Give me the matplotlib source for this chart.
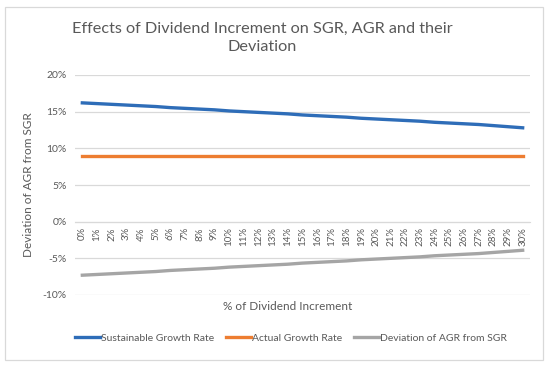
import numpy as np
import matplotlib
matplotlib.use("Agg")
import matplotlib.pyplot as plt
from matplotlib.patches import Rectangle

plt.rcParams['font.family'] = ['Lato', 'DejaVu Sans']

# % of dividend increment, 0..30
categories = [f"{i}%" for i in range(31)]
sgr = [16.2, 16.1, 16.0, 15.9, 15.8, 15.7, 15.55, 15.45, 15.35, 15.25,
       15.1, 15.0, 14.9, 14.8, 14.7, 14.55, 14.45, 14.35, 14.25, 14.1,
       14.0, 13.9, 13.8, 13.7, 13.55, 13.45, 13.35, 13.25, 13.1, 12.95, 12.8]
agr = [8.9] * 31
deviation = [-7.3, -7.2, -7.1, -7.0, -6.9, -6.8, -6.65, -6.55, -6.45, -6.35,
             -6.2, -6.1, -6.0, -5.9, -5.8, -5.65, -5.55, -5.45, -5.35, -5.2,
             -5.1, -5.0, -4.9, -4.8, -4.65, -4.55, -4.45, -4.35, -4.2, -4.05, -3.9]
yticks = [-10, -5, 0, 5, 10, 15, 20]

txt = '#595959'
fig = plt.figure(figsize=(5.5, 3.65), dpi=100)
ax = fig.add_axes([75/550, 1 - 295/365, 455/550, 220/365])

x = np.arange(len(categories))
ax.plot(x, sgr, color='#2E6DB8', lw=2.4, label='Sustainable Growth Rate')
ax.plot(x, agr, color='#ED7D31', lw=2.4, label='Actual Growth Rate')
ax.plot(x, deviation, color='#A5A5A5', lw=2.4, label='Deviation of AGR from SGR')

ax.set_xlim(-0.5, len(categories) - 0.5)
ax.set_ylim(-10, 20)
ax.set_yticks(yticks)
ax.set_yticklabels([f"{v}%" for v in yticks], color=txt, fontsize=7.5)
ax.yaxis.grid(True, color='#D9D9D9', lw=0.9)
ax.set_axisbelow(True)
for s in ['top', 'right', 'left']:
    ax.spines[s].set_visible(False)
ax.spines['bottom'].set_position(('data', 0))
ax.spines['bottom'].set_color('#D9D9D9')
ax.tick_params(axis='y', length=0, pad=6)
ax.tick_params(axis='x', length=0, pad=4)
ax.set_xticks(x)
ax.set_xticklabels(categories, rotation=90, fontsize=7, color=txt)

ax.set_ylabel('Deviation of AGR from SGR', color=txt, fontsize=8.5, labelpad=6)
fig.text(288/550, 1 - 306/365, '% of Dividend Increment', color=txt,
         fontsize=8.5, ha='center', va='center')
fig.text(262/550, 1 - 38/365, 'Effects of Dividend Increment on SGR, AGR and their\nDeviation',
         color=txt, fontsize=11.7, ha='center', va='center', linespacing=1.4)

ax.legend(loc='center', bbox_to_anchor=(291/550, 1 - 338/365), bbox_transform=fig.transFigure,
          ncol=3, frameon=False, fontsize=7.5, labelcolor=txt, handlelength=2.4,
          handletextpad=0.1, columnspacing=1.1)

fig.patches.append(Rectangle((5/550, 5/365), 538/550, 353/365, transform=fig.transFigure,
                             fill=False, edgecolor='#D9D9D9', lw=0.9))

fig.savefig('out.png', dpi=100)
